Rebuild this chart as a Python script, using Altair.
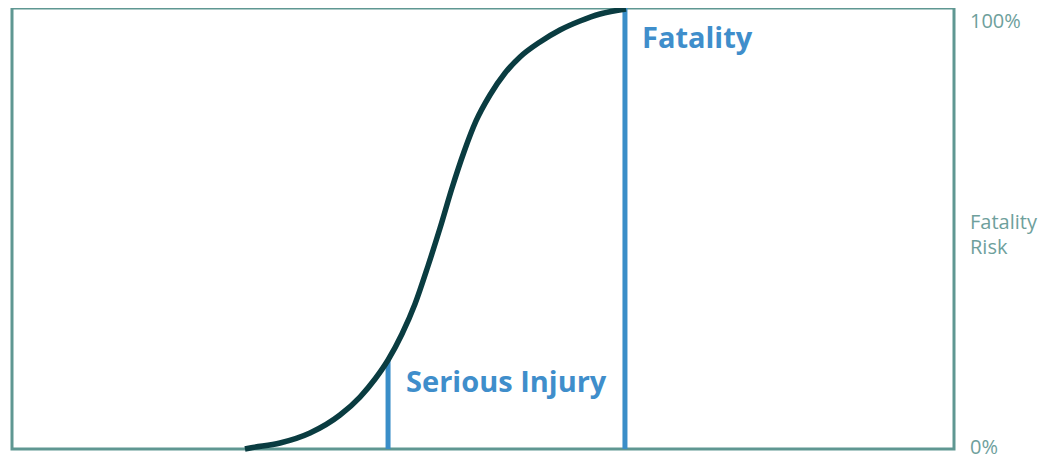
import altair as alt
import pandas as pd

# Sigmoid fatality-risk curve (x in arbitrary impact units 0-100, risk 0-1)
curve_x = [24.73, 25.27, 28.45, 31.63, 34.82, 36.94, 38.54, 39.92, 41.40, 42.78,
           44.16, 45.44, 46.71, 47.98, 49.26, 50.74, 52.34, 53.93, 56.05, 58.17,
           60.30, 62.42, 65.18]
curve_risk = [0.0, 0.0023, 0.0136, 0.0363, 0.0771, 0.1179, 0.1587, 0.2018, 0.2608, 0.3288,
              0.4150, 0.5011, 0.5918, 0.6735, 0.7438, 0.8027, 0.8526, 0.8889, 0.9229, 0.9501,
              0.9705, 0.9864, 0.9977]

# Threshold markers
marker_names = ["Serious Injury", "Fatality"]
marker_x = [39.92, 65.07]
marker_top = [0.2018, 1.0]

# Right-hand scale annotations
side_labels = ["100%", "Fatality Risk", "0%"]
side_values = [1.0, 0.5, 0.0]

curve_df = pd.DataFrame({"x": curve_x, "risk": curve_risk})
marker_df = pd.DataFrame({"name": marker_names, "x": marker_x, "y0": [0.0, 0.0], "ytop": marker_top})
side_df = pd.DataFrame({"label": side_labels, "v": side_values, "x": [100.0, 100.0, 100.0]})

FRAME = "#5f9792"
BLUE = "#3a8ec8"
LABEL_BLUE = "#3f8ecb"
DARK = "#0a3c41"
SIDE = "#6ea09c"
FONT = "Open Sans"

xs = alt.Scale(domain=[0, 100], nice=False, zero=False)
ys = alt.Scale(domain=[0, 1], nice=False)

curve = alt.Chart(curve_df).mark_line(
    color=DARK, strokeWidth=5.5, interpolate="monotone"
).encode(
    x=alt.X("x:Q", scale=xs, axis=None),
    y=alt.Y("risk:Q", scale=ys, axis=None),
)

rules = alt.Chart(marker_df).mark_rule(color=BLUE, strokeWidth=5).encode(
    x=alt.X("x:Q", scale=xs, axis=None),
    y=alt.Y("y0:Q", scale=ys, axis=None),
    y2=alt.Y2("ytop:Q"),
)

serious_lbl = alt.Chart(marker_df).transform_filter(
    alt.datum.name == "Serious Injury"
).mark_text(
    align="left", baseline="alphabetic", dx=18, dy=-57,
    font=FONT, fontSize=29, fontWeight="bold", color=LABEL_BLUE,
).encode(x=alt.X("x:Q", scale=xs, axis=None), y=alt.Y("y0:Q", scale=ys, axis=None), text="name:N")

fatal_lbl = alt.Chart(marker_df).transform_filter(
    alt.datum.name == "Fatality"
).mark_text(
    align="left", baseline="alphabetic", dx=17, dy=40,
    font=FONT, fontSize=29, fontWeight="bold", color=LABEL_BLUE,
).encode(x=alt.X("x:Q", scale=xs, axis=None), y=alt.Y("ytop:Q", scale=ys, axis=None), text="name:N")

def side(label, dy):
    return alt.Chart(side_df).transform_filter(
        alt.datum.label == label
    ).mark_text(
        align="left", baseline="middle", dx=16, dy=dy, lineBreak=" ", lineHeight=25,
        font=FONT, fontSize=20, color=SIDE,
    ).encode(x=alt.X("x:Q", scale=xs, axis=None), y=alt.Y("v:Q", scale=ys, axis=None), text="label:N")

side_top = side("100%", 14)
side_mid = side("Fatality Risk", -6)
side_bot = side("0%", -1)

chart = alt.layer(rules, curve, serious_lbl, fatal_lbl, side_top, side_mid, side_bot).properties(
    width=942, height=441,
    autosize=alt.AutoSizeParams(type="none"),
    padding={"left": 4, "top": 0, "right": 86, "bottom": 10},
).configure_view(
    stroke=FRAME, strokeWidth=3,
)

chart.save("out.html", embed_options={"renderer": "svg", "actions": False})
